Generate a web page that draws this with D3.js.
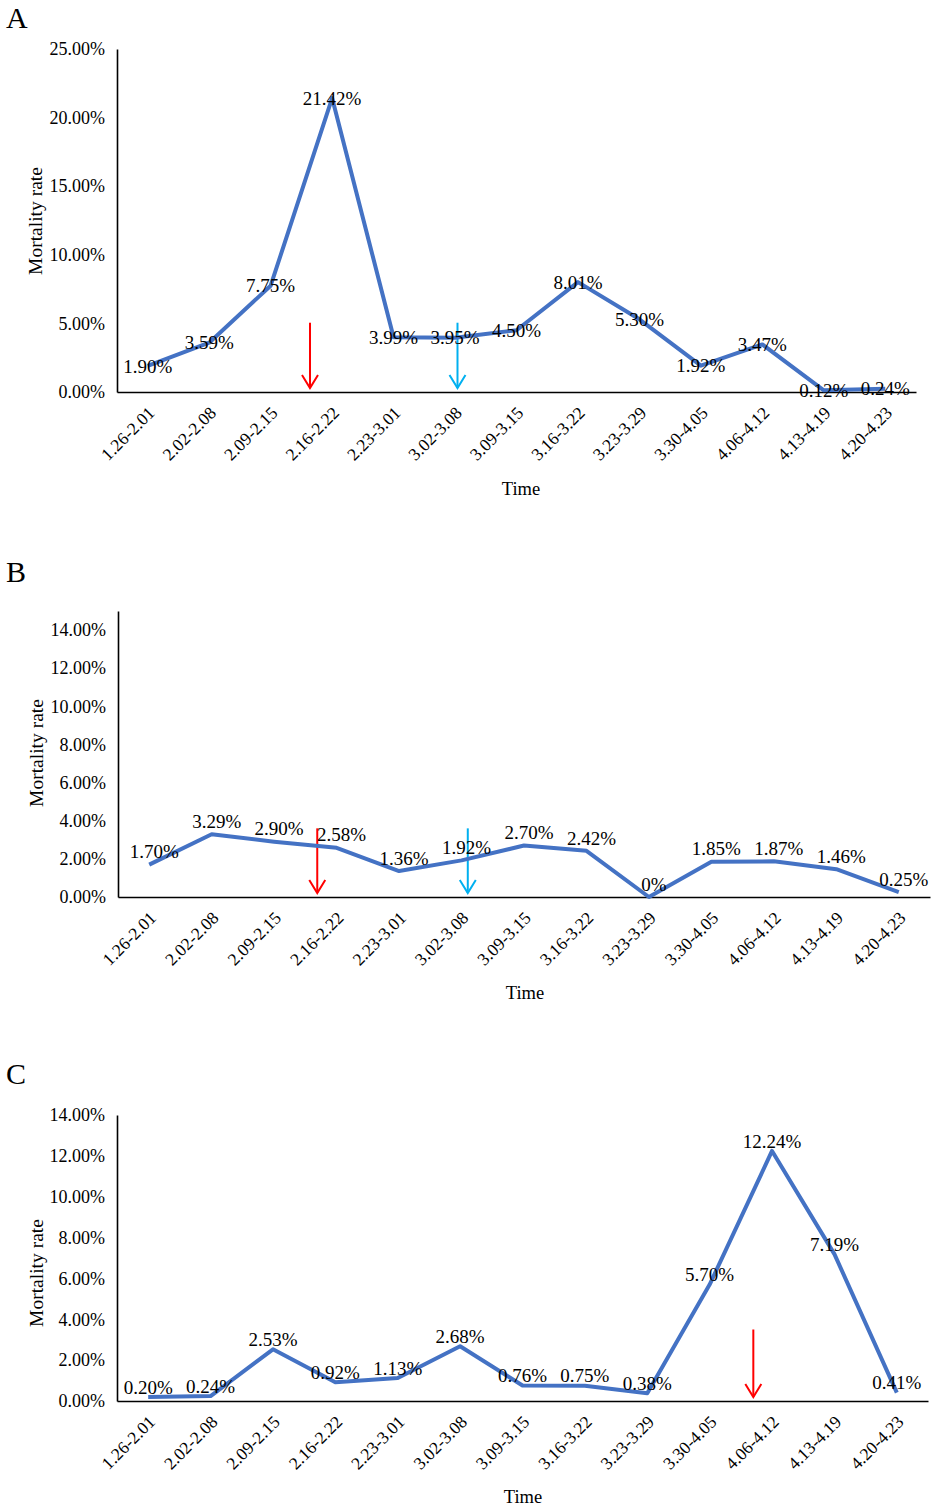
<!DOCTYPE html>
<html>
<head>
<meta charset="utf-8">
<script src="https://cdn.jsdelivr.net/npm/d3@7"></script>
<style>
  body { margin: 0; background: #fff; }
  svg text { font-family: "Liberation Serif", "Times New Roman", serif; fill: #000; }
</style>
</head>
<body>
<svg id="chart" width="935" height="1509"></svg>
<script>
// categories (weeks)
var weeks = ["1.26-2.01", "2.02-2.08", "2.09-2.15", "2.16-2.22", "2.23-3.01", "3.02-3.08",
  "3.09-3.15", "3.16-3.22", "3.23-3.29", "3.30-4.05", "4.06-4.12", "4.13-4.19", "4.20-4.23"];

// mortality rate, %
var rateA = [1.90, 3.59, 7.75, 21.42, 3.99, 3.95, 4.50, 8.01, 5.30, 1.92, 3.47, 0.12, 0.24];
var rateB = [1.70, 3.29, 2.90, 2.58, 1.36, 1.92, 2.70, 2.42, 0, 1.85, 1.87, 1.46, 0.25];
var rateC = [0.20, 0.24, 2.53, 0.92, 1.13, 2.68, 0.76, 0.75, 0.38, 5.70, 12.24, 7.19, 0.41];

// y tick values
var ticksA = [0, 5, 10, 15, 20, 25];
var ticksB = [0, 2, 4, 6, 8, 10, 12, 14];
var ticksC = [0, 2, 4, 6, 8, 10, 12, 14];

// arrows: week, fraction of a step to the side, top value (%)
var arrowsA = [{week: "2.16-2.22", shift: -0.36, top: 5.05, color: "#FF0000"},
               {week: "3.02-3.08", shift: 0.04, top: 5.05, color: "#00B0F0"}];
var arrowsB = [{week: "2.16-2.22", shift: -0.31, top: 3.6, color: "#FF0000"},
               {week: "3.02-3.08", shift: 0.1, top: 3.6, color: "#00B0F0"}];
var arrowsC = [{week: "4.06-4.12", shift: -0.3, top: 3.5, color: "#FF0000"}];

var svg = d3.select("#chart");

function drawPanel(letter, rates, ticks, arrows, box)
{
    var g = svg.append("g").attr("id", "panel" + letter);

    var x = d3.scaleBand().domain(weeks).range([box.left, box.right]).padding(0);
    var y = d3.scaleLinear().domain([0, box.yMax]).range([box.bottom, box.top]);

    // panel letter
    g.append("text")
    .attr("x", 6)
    .attr("y", box.letterY)
    .style("font-size", "30px")
    .text(letter);

    // y axis
    var yAxis = g.append("g")
    .attr("transform", "translate(" + box.left + ",0)")
    .call(d3.axisLeft(y).tickValues(ticks).tickSize(0).tickSizeOuter(0).tickPadding(12)
      .tickFormat(function(d) { return d.toFixed(2) + "%"; }));
    yAxis.select(".domain").attr("stroke", "#000").attr("stroke-width", 1.6);
    yAxis.selectAll("text").style("font-size", "18px").style("font-family", "Liberation Serif");

    // x axis
    var xAxis = g.append("g")
    .attr("transform", "translate(0," + box.bottom + ")")
    .call(d3.axisBottom(x).tickSize(0).tickSizeOuter(0));
    xAxis.select(".domain").attr("stroke", "#000").attr("stroke-width", 1.6);
    xAxis.selectAll("text")
    .attr("x", 0).attr("y", 0).attr("dy", 0)
    .attr("text-anchor", "end")
    .attr("transform", "translate(8,22) rotate(-45)")
    .style("font-size", "17.5px")
    .style("font-family", "Liberation Serif");

    // axis titles
    g.append("text")
    .attr("transform", "translate(" + box.titleX + "," + box.titleY + ") rotate(-90)")
    .attr("text-anchor", "middle")
    .attr("dy", "0.35em")
    .style("font-size", "19.5px")
    .text("Mortality rate");

    g.append("text")
    .attr("x", box.timeX)
    .attr("y", box.bottom + box.timeDy)
    .attr("text-anchor", "middle")
    .style("font-size", "18.5px")
    .text("Time");

    // arrows
    arrows.forEach(function(a) {
        var ax = x(a.week) + x.bandwidth() / 2 + a.shift * x.step();
        var y1 = y(a.top);
        var y2 = box.bottom - 4;
        g.append("line")
        .attr("x1", ax).attr("x2", ax)
        .attr("y1", y1).attr("y2", y2)
        .attr("stroke", a.color)
        .attr("stroke-width", 2);
        g.append("path")
        .attr("d", "M" + (ax - 8) + "," + (y2 - 13) + "L" + ax + "," + y2 + "L" + (ax + 8) + "," + (y2 - 13))
        .attr("fill", "none")
        .attr("stroke", a.color)
        .attr("stroke-width", 2);
    });

    // the line
    var line = d3.line()
    .x(function(d, i) { return x(weeks[i]) + x.bandwidth() / 2; })
    .y(function(d) { return y(d); });

    g.append("path")
    .datum(rates)
    .attr("d", line)
    .attr("fill", "none")
    .attr("stroke", "#4472C4")
    .attr("stroke-width", 4)
    .attr("stroke-linejoin", "round");

    // data labels
    g.selectAll(".lbl")
    .data(rates)
    .enter().append("text")
    .attr("class", "lbl")
    .attr("x", function(d, i) { return x(weeks[i]) + x.bandwidth() / 2 + box.labelDx; })
    .attr("y", function(d) { return y(d) + box.labelDy; })
    .attr("text-anchor", "middle")
    .attr("dy", "0.35em")
    .style("font-size", "19px")
    .text(function(d) { return d === 0 ? "0%" : d.toFixed(2) + "%"; });
}

drawPanel("A", rateA, ticksA, arrowsA,
  {left: 117, right: 916, top: 49, bottom: 392, yMax: 25, letterY: 28,
   titleX: 35, titleY: 221, timeX: 521, timeDy: 103, labelDx: 0, labelDy: 0});
drawPanel("B", rateB, ticksB, arrowsB,
  {left: 118, right: 930, top: 611, bottom: 897, yMax: 15, letterY: 582,
   titleX: 36, titleY: 753, timeX: 525, timeDy: 102, labelDx: 5, labelDy: -13});
drawPanel("C", rateC, ticksC, arrowsC,
  {left: 117, right: 928, top: 1115, bottom: 1401, yMax: 14, letterY: 1084,
   titleX: 36, titleY: 1273, timeX: 523, timeDy: 102, labelDx: 0, labelDy: -10});
</script>
</body>
</html>
